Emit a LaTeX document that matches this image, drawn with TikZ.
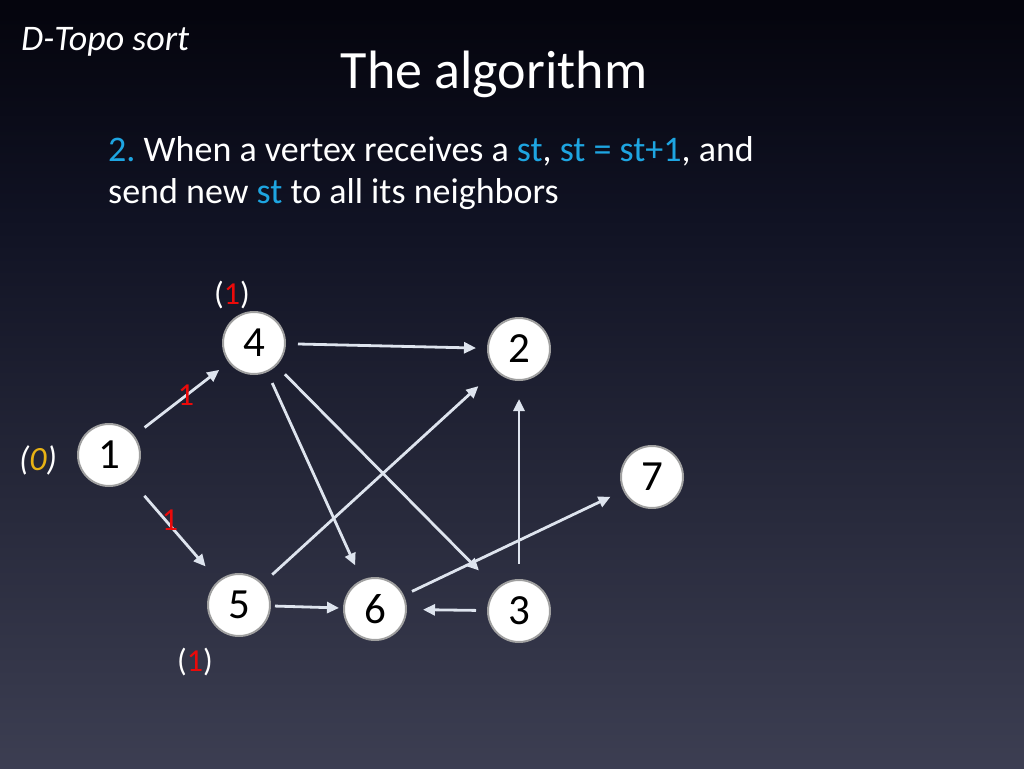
\documentclass[tikz,border=0pt]{standalone}
\usepackage{fontspec}
\setmainfont{Carlito}
\usetikzlibrary{arrows.meta}
\definecolor{c0}{RGB}{86,88,108}
\definecolor{c1}{RGB}{64,66,86}
\definecolor{c2}{RGB}{40,42,60}
\definecolor{c3}{RGB}{16,18,35}
\definecolor{c4}{RGB}{5,5,14}
\definecolor{stblue}{RGB}{30,165,225}
\definecolor{myred}{RGB}{235,10,10}
\definecolor{gold}{RGB}{232,178,20}
\definecolor{edgecol}{RGB}{222,228,238}
\pgfdeclareverticalshading{bgshade}{100bp}{color(0bp)=(c0); color(21.9bp)=(c1); color(41.4bp)=(c2); color(60.9bp)=(c3); color(74bp)=(c4); color(84.4bp)=(black); color(100bp)=(black)}
\tikzset{
  vtx/.style={circle, fill=white, draw={rgb,255:red,160;green,160;blue,160}, line width=2, minimum size=62, inner sep=0, font=\fontsize{43}{43}\selectfont, text=black},
  arr/.style={draw=edgecol, line width=2.8, -{Triangle[length=12,width=11]}},
  lbl/.style={text=white, font=\fontsize{32}{32}\selectfont, inner sep=0},
  elbl/.style={text=myred, font=\fontsize{32}{32}\selectfont, inner sep=0},
}
\frenchspacing
\begin{document}
\begin{tikzpicture}[x=1pt,y=-1pt]
\shade[shading=bgshade] (0,0) rectangle (1024,768);
\useasboundingbox (0,0) rectangle (1024,768);
\node[anchor=base west, text=white, inner sep=0, font=\fontsize{36}{36}\selectfont\itshape] (hdr) at (21,50) {D-Topo sort};
\node[anchor=base, text=white, inner sep=0, font=\fontsize{54}{54}\selectfont] (title) at (494,88) {The algorithm};
\node[anchor=base west, text=white, inner sep=0, font=\fontsize{36}{42}\selectfont] (l1) at (108,161) {\textcolor{stblue}{2.} When a vertex receives a \textcolor{stblue}{st}, \textcolor{stblue}{st = st+1}, and};
\node[anchor=base west, text=white, inner sep=0, font=\fontsize{36}{42}\selectfont] (l2) at (108,203) {send new \textcolor{stblue}{st} to all its neighbors};

\node[vtx] (n1) at (109,455) {1};
\node[vtx] (n4) at (254,343) {4};
\node[vtx] (n2) at (519,349) {2};
\node[vtx] (n7) at (652,477) {7};
\node[vtx] (n5) at (239,605) {5};
\node[vtx] (n6) at (375,609) {6};
\node[vtx] (n3) at (519,611) {3};

\draw[arr, shorten <=13, shorten >=12] (n1) -- (n4);
\draw[arr, shorten <=22, shorten >=19] (n1) -- (n5);
\draw[arr, shorten <=12, shorten >=11] (n4) -- (n2);
\draw[arr, shorten <=12, shorten >=16] (n4) -- (n6);
\draw[arr, shorten <=12, shorten >=25] (n4) -- (n3);
\draw[arr, shorten <=13, shorten >=23] (n5) -- (n2);
\draw[arr, shorten <=4, shorten >=4] (n5) -- (n6);
\draw[arr, shorten <=11, shorten >=16] (n3) -- (n6);
\draw[arr, shorten <=15, shorten >=18] (n3) -- (n2);
\draw[arr, shorten <=9, shorten >=14] (n6) -- (n7);

\node[lbl] (s4) at (232,295) {(\textcolor{myred}{1})};
\node[lbl, font=\fontsize{34}{34}\selectfont\itshape] (s1) at (38,460) {(\textcolor{gold}{0})};
\node[lbl] (s5) at (195,662) {(\textcolor{myred}{1})};
\node[elbl] (e14) at (186,395) {1};
\node[elbl] (e15) at (170,520) {1};
\end{tikzpicture}
\end{document}
